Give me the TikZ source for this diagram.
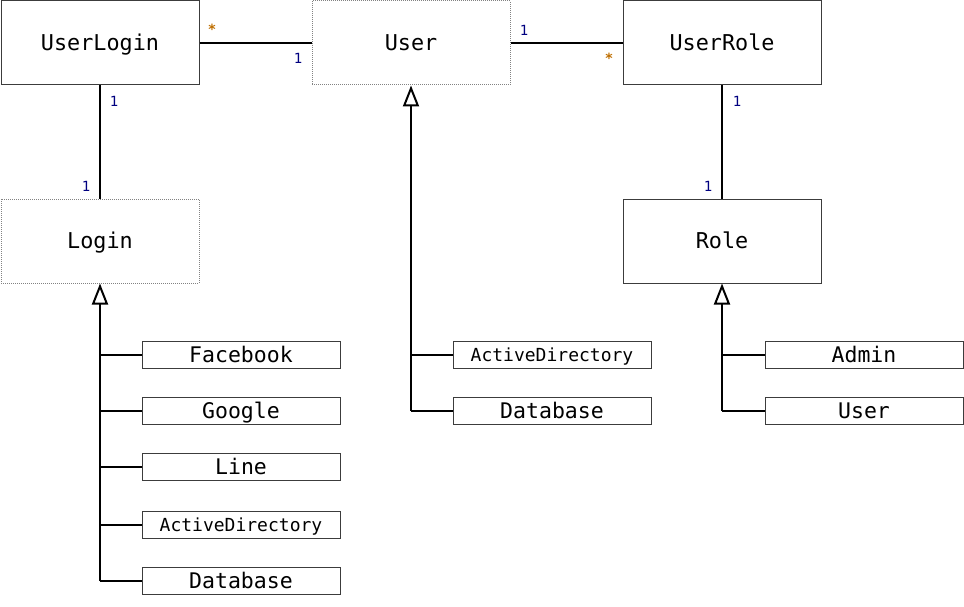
\documentclass[tikz,border=0pt]{standalone}
\usepackage{fontspec}
\setmonofont{DejaVu Sans Mono}
\usetikzlibrary{arrows.meta}
\definecolor{boxline}{RGB}{60,60,60}
\definecolor{dotline}{RGB}{130,130,130}
\definecolor{multone}{RGB}{0,0,128}
\definecolor{multstar}{RGB}{190,110,0}
\begin{document}
\begin{tikzpicture}[x=1pt,y=-1pt,
  cls/.style={draw=boxline, line width=1pt, minimum width=198pt, minimum height=84pt, inner sep=0pt, text height=15.9pt, text depth=0pt, font=\ttfamily\fontsize{21.8}{24}\selectfont},
  iface/.style={cls, draw=dotline, dash pattern=on 1pt off 1pt},
  sub/.style={draw=boxline, line width=1pt, minimum width=198pt, minimum height=27.5pt, inner sep=0pt, text height=15.7pt, text depth=0pt, font=\ttfamily\fontsize{21.5}{24}\selectfont},
  subsmall/.style={sub, text height=13.1pt, font=\ttfamily\fontsize{18}{20}\selectfont},
  conn/.style={draw=black, line width=2pt},
  gen/.style={conn, -{Triangle[open, length=21pt, width=16pt, line width=2pt]}},
  one/.style={text=multone, font=\ttfamily\fontsize{14}{16}\selectfont, inner sep=0pt},
  star/.style={text=multstar, font=\ttfamily\bfseries\fontsize{14}{16}\selectfont, inner sep=0pt}
]
\useasboundingbox (0,0) rectangle (964,607);
% main classes
\node[cls] (userlogin) at (100,43) {UserLogin};
\node[iface] (user) at (411,43) {User};
\node[cls] (userrole) at (722,43) {UserRole};
\node[iface] (login) at (100,241) {Login};
\node[cls] (role) at (722,241) {Role};
% subclasses
\node[sub] (facebook) at (241,355) {Facebook};
\node[sub] (google) at (241,411) {Google};
\node[sub] (line) at (241,467) {Line};
\node[subsmall] (adleft) at (241,525) {ActiveDirectory};
\node[sub] (dbleft) at (241,581) {Database};
\node[subsmall] (admid) at (552,355) {ActiveDirectory};
\node[sub] (dbmid) at (552,411) {Database};
\node[sub] (admin) at (864,355) {Admin};
\node[sub] (roleuser) at (864,411) {User};
% associations
\draw[conn] (userlogin.east) -- (user.west);
\draw[conn] (user.east) -- (userrole.west);
\draw[conn] (userlogin.south) -- (login.north);
\draw[conn] (userrole.south) -- (role.north);
% multiplicities
\node[star] (m1) at (212,29) {*};
\node[one] (m2) at (298,58) {1};
\node[one] (m3) at (524,30) {1};
\node[star] (m4) at (609,58) {*};
\node[one] (m5) at (114,101) {1};
\node[one] (m6) at (86,186) {1};
\node[one] (m7) at (737,101) {1};
\node[one] (m8) at (708,186) {1};
% generalizations
\coordinate (lt) at (dbleft.west -| login.south);
\draw[gen] (lt) -- (login.south);
\foreach \n in {facebook,google,line,adleft,dbleft}
  \draw[conn] (\n.west) -- (\n.west -| login.south);
\coordinate (ut) at (dbmid.west -| user.south);
\draw[gen] (ut) -- (user.south);
\foreach \n in {admid,dbmid}
  \draw[conn] (\n.west) -- (\n.west -| user.south);
\coordinate (rt) at (roleuser.west -| role.south);
\draw[gen] (rt) -- (role.south);
\foreach \n in {admin,roleuser}
  \draw[conn] (\n.west) -- (\n.west -| role.south);
\end{tikzpicture}
\end{document}
